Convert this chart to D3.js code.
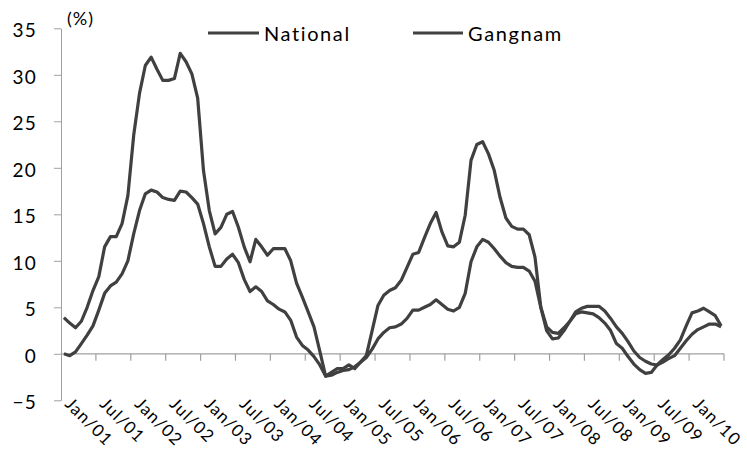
<!DOCTYPE html>
<html><head><meta charset="utf-8">
<script src="https://cdn.jsdelivr.net/npm/d3@7"></script>
<style>
body{margin:0;background:#fff}
svg{display:block}
text{font-family:Lato,"Open Sans",sans-serif;fill:#000}
</style>
</head><body>
<svg id="chart" width="747" height="452"></svg>
<script>
// ---- data ----
const firstMonth = new Date(2001, 0, 1);
const endMonth = new Date(2010, 6, 1); // exclusive -> Jan/01 .. Jun/10 (114 months)
const tickLabels = ["Jan/01","Jul/01","Jan/02","Jul/02","Jan/03","Jul/03","Jan/04","Jul/04","Jan/05","Jul/05","Jan/06","Jul/06","Jan/07","Jul/07","Jan/08","Jul/08","Jan/09","Jul/09","Jan/10"];
const yTicks = [-5, 0, 5, 10, 15, 20, 25, 30, 35];
const seriesNames = ["National", "Gangnam"];
const national = [
  0.0,-0.2,0.2,1.1,2.0,3.0,4.7,6.5,7.3,7.7,8.6,10.0,
  12.9,15.4,17.2,17.6,17.4,16.8,16.6,16.5,17.5,17.4,16.8,16.1,
  14.0,11.5,9.4,9.4,10.2,10.7,9.8,8.0,6.7,7.2,6.7,5.7,
  5.3,4.8,4.5,3.6,1.8,0.9,0.4,-0.3,-1.2,-2.4,-2.3,-2.0,
  -1.8,-1.7,-1.4,-0.9,-0.4,0.5,1.6,2.3,2.8,2.9,3.2,3.8,
  4.7,4.7,5.0,5.3,5.8,5.3,4.8,4.6,5.0,6.5,9.9,11.5,
  12.3,12.0,11.3,10.5,9.8,9.4,9.3,9.3,8.9,7.8,5.0,2.9,
  2.3,2.2,2.8,3.5,4.3,4.5,4.4,4.3,3.9,3.3,2.5,1.1,
  0.6,-0.3,-1.1,-1.7,-2.1,-2.0,-1.2,-0.6,-0.1,0.6,1.5,3.0,
  4.4,4.6,4.9,4.5,4.1,3.0
];
const gangnam = [
  3.9,3.3,2.8,3.5,5.0,6.8,8.3,11.5,12.6,12.6,14.0,17.0,
  23.5,28.0,31.0,31.9,30.6,29.4,29.4,29.6,32.3,31.4,30.1,27.5,
  19.7,15.4,12.9,13.6,15.0,15.3,13.6,11.5,9.9,12.3,11.5,10.6,
  11.3,11.3,11.3,10.0,7.6,6.1,4.5,2.9,0.3,-2.4,-2.0,-1.6,
  -1.6,-1.2,-1.6,-0.9,-0.2,2.5,5.2,6.3,6.8,7.1,7.9,9.3,
  10.7,10.9,12.5,14.0,15.2,13.1,11.6,11.5,12.0,14.9,20.8,22.5,
  22.8,21.5,19.7,16.8,14.6,13.7,13.4,13.4,12.8,10.4,5.0,2.5,
  1.6,1.7,2.5,3.5,4.5,4.9,5.1,5.1,5.1,4.6,3.8,2.9,
  2.2,1.3,0.3,-0.4,-0.8,-1.1,-1.2,-0.9,-0.5,-0.2,0.6,1.4,
  2.1,2.6,2.9,3.2,3.2,2.9
];

// ---- chart ----
const fmt = d3.timeFormat("%b/%y");
const categories = d3.timeMonth.range(firstMonth, endMonth).map(fmt);
const svg = d3.select("#chart");
const axisColor = "#a0a0a0";
const lineColor = "#404040";
const font = "Lato";

const x = d3.scaleBand().domain(categories).range([61, 724]).padding(0);
const y = d3.scaleLinear().domain([-5, 35]).range([400.3, 28.3]);
const cx = c => x(c) + x.bandwidth() / 2;

// y axis
const yAxis = svg.append("g").attr("transform", "translate(61,0)")
  .call(d3.axisLeft(y).tickValues(yTicks).tickSize(7).tickPadding(17).tickSizeOuter(0));
yAxis.select(".domain").attr("stroke", axisColor).attr("stroke-width", 1);
yAxis.selectAll(".tick line").attr("stroke", axisColor);
yAxis.selectAll(".tick text")
  .attr("font-family", font)
  .attr("font-size", 19).attr("letter-spacing", 1.2).attr("fill", "#000").attr("dy", "0.45em");

// x axis (category axis crossing at 0)
const x0 = y(0);
svg.append("line").attr("x1", 61).attr("x2", 724).attr("y1", x0).attr("y2", x0)
  .attr("stroke", axisColor).attr("stroke-width", 1.2);
const tickIdx = categories.map((c, i) => i).filter(i => i > 0 && i % 6 === 0);
svg.append("g").selectAll("line").data(tickIdx.map(i => x(categories[i])).concat([x.range()[1]]))
  .join("line")
  .attr("x1", d => d).attr("x2", d => d).attr("y1", x0).attr("y2", x0 + 7)
  .attr("stroke", axisColor).attr("stroke-width", 1.2);
svg.append("g").selectAll("text").data(tickLabels).join("text")
  .attr("transform", d => `translate(${cx(d)},405) rotate(45)`)
  .attr("font-size", 17).attr("letter-spacing", 1.2)
  .text(d => d);

// lines
const line = d3.line().x((d, i) => cx(categories[i])).y(d => y(d));
[national, gangnam].forEach(s => {
  svg.append("path").datum(s).attr("d", line)
    .attr("fill", "none").attr("stroke", lineColor).attr("stroke-width", 3.2)
    .attr("stroke-linejoin", "round");
});

// unit label
svg.append("text").attr("x", 67).attr("y", 25).attr("font-size", 18).attr("letter-spacing", 1).text("(%)");

// legend
const legendPos = [{x1: 208, x2: 259, tx: 264}, {x1: 413, x2: 463, tx: 468}];
seriesNames.forEach((n, i) => {
  const p = legendPos[i];
  svg.append("line").attr("x1", p.x1).attr("x2", p.x2).attr("y1", 33).attr("y2", 33)
    .attr("stroke", lineColor).attr("stroke-width", 3.2);
  svg.append("text").attr("x", p.tx).attr("y", 40.5).attr("font-size", 20).attr("letter-spacing", 1.6).text(n);
});
</script>
</body></html>
